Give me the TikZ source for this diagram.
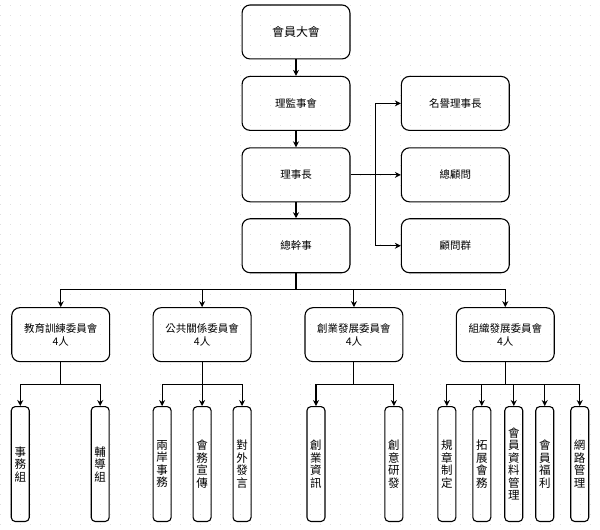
\documentclass[tikz,border=0pt]{standalone}
\usepackage{fontspec}
\usepackage{xcolor}
\setmainfont{Noto Sans CJK TC}
\usetikzlibrary{arrows.meta}

\begin{document}
\begin{tikzpicture}[x=1pt, y=-1pt,
  box/.style={draw, line width=1.1pt, rounded corners=8pt, minimum width=108pt, minimum height=54pt, font=\fontsize{10.5}{13}\selectfont, align=center, inner sep=0pt},
  cmte/.style={box, minimum width=98pt},
  leaf/.style={draw, line width=1.1pt, rounded corners=4pt, minimum width=18pt, minimum height=115pt, font=\fontsize{11.5}{12.5}\selectfont, align=center, inner sep=0pt},
  link/.style={line width=1.1pt, -{Stealth[length=6pt, width=6pt]}}]
  % background with faint dotted grid
  \fill[white] (0,0) rectangle (600,530);
  \foreach \y in {5,15,...,525} {
    \draw[gray!25, line width=0.6pt, dash pattern=on 0.8pt off 9.2pt] (0,\y) -- (600,\y);
  }
  \useasboundingbox (0,0) rectangle (600,530);
  % Main column
  \node[box, font=\fontsize{12}{14}\selectfont] (assembly) at (296, 32)    {會員大會};
  \node[box] (board)    at (296, 103.5) {理監事會};
  \node[box] (chair)    at (296, 175)   {理事長};
  \node[box] (secgen)   at (296, 246)   {總幹事};
  % Advisors
  \node[box] (honor)    at (455.5, 103.5) {名譽理事長};
  \node[box] (advisor)  at (455.5, 175)   {總顧問};
  \node[box] (advgroup) at (455.5, 246)   {顧問群};
  % Committees
  \node[cmte] (edu)   at (60.5, 335) {教育訓練委員會\\4人};
  \node[cmte] (pr)    at (202, 335)  {公共關係委員會\\4人};
  \node[cmte] (biz)   at (354, 335)  {創業發展委員會\\4人};
  \node[cmte] (org)   at (505.5, 335) {組織發展委員會\\4人};
  % Groups under committees
  \node[leaf] (g11) at (20, 464.5)  {事\\務\\組};
  \node[leaf] (g12) at (100, 464.5) {輔\\導\\組};
  \node[leaf] (g21) at (162, 464.5) {兩\\岸\\事\\務};
  \node[leaf] (g22) at (202, 464.5) {會\\務\\宣\\傳};
  \node[leaf] (g23) at (242, 464.5) {對\\外\\發\\言};
  \node[leaf] (g31) at (316, 464.5) {創\\業\\資\\訊};
  \node[leaf] (g32) at (394, 464.5) {創\\意\\研\\發};
  \node[leaf] (g41) at (447, 464.5) {規\\章\\制\\定};
  \node[leaf] (g42) at (482, 464.5) {拓\\展\\會\\務};
  \node[leaf] (g43) at (514, 464.5) {會\\員\\資\\料\\管\\理};
  \node[leaf] (g44) at (545, 464.5) {會\\員\\福\\利};
  \node[leaf] (g45) at (580, 464.5) {網\\路\\管\\理};
  % Main chain
  \draw[link] (assembly) -- (board);
  \draw[link] (board) -- (chair);
  \draw[link] (chair) -- (secgen);
  % Chair to advisors
  \coordinate (fork) at (376, 175);
  \draw[line width=1.1pt] (chair) -- (fork);
  \draw[link] (fork) |- (honor);
  \draw[link] (fork) -- (advisor);
  \draw[link] (fork) |- (advgroup);
  % Secretary general to committees
  \coordinate (bus) at (296, 290);
  \draw[line width=1.1pt] (secgen) -- (bus);
  \foreach \c in {edu, pr, biz, org} {
    \draw[link] (bus) -| (\c);
  }
  % Committees to groups
  \foreach \c/\gs in {edu/{g11,g12}, pr/{g21,g22,g23}, biz/{g31,g32}, org/{g41,g42,g43,g44,g45}} {
    \draw[line width=1.1pt] (\c.south) -- ++(0,22) coordinate (\c-bus);
    \foreach \g in \gs {
      \draw[link] (\c-bus) -| (\g);
    }
  }
\end{tikzpicture}
\end{document}
